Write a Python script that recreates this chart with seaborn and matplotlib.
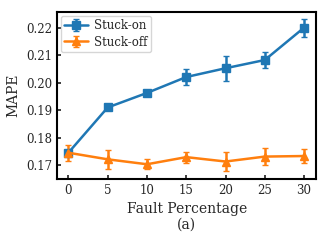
import matplotlib.pyplot as plt
import seaborn as sns

fault_pct = [0, 5, 10, 15, 20, 25, 30]
stuck_on = [0.1745, 0.1910, 0.1963, 0.2021, 0.2053, 0.2083, 0.2201]
stuck_on_err = [0.0010, 0.0006, 0.0008, 0.0029, 0.0045, 0.0030, 0.0033]
stuck_off = [0.1745, 0.1721, 0.1703, 0.1729, 0.1713, 0.1731, 0.1733]
stuck_off_err = [0.0030, 0.0034, 0.0018, 0.0020, 0.0035, 0.0032, 0.0026]

sns.set_theme(style="ticks")
plt.rcParams["font.family"] = ["DejaVu Serif"]

fig, ax = plt.subplots(figsize=(3.28, 2.40), dpi=100)
colors = sns.color_palette("tab10")

ax.errorbar(fault_pct, stuck_on, yerr=stuck_on_err, color=colors[0], marker="s",
            markersize=6, linewidth=1.8, capsize=2.5, label="Stuck-on")
ax.errorbar(fault_pct, stuck_off, yerr=stuck_off_err, color=colors[1], marker="^",
            markersize=6, linewidth=1.8, capsize=2.5, label="Stuck-off")

ax.set_xlim(-1.4, 31.5)
ax.set_ylim(0.165, 0.2258)
ax.set_xticks(fault_pct)
ax.set_yticks([0.17, 0.18, 0.19, 0.20, 0.21, 0.22])
ax.tick_params(direction="in", labelsize=8.5, length=3)
for s in ax.spines.values():
    s.set_linewidth(1.5)
    s.set_color("black")

ax.set_xlabel("Fault Percentage\n(a)", fontsize=10, linespacing=1.1)
ax.set_ylabel("MAPE", fontsize=10)
ax.legend(loc="upper left", fontsize=8.5, handlelength=2, borderpad=0.3,
          labelspacing=0.3, handletextpad=0.5, borderaxespad=0.3)

plt.subplots_adjust(left=0.175, right=0.963, top=0.95, bottom=0.255)
plt.savefig("out.png")
